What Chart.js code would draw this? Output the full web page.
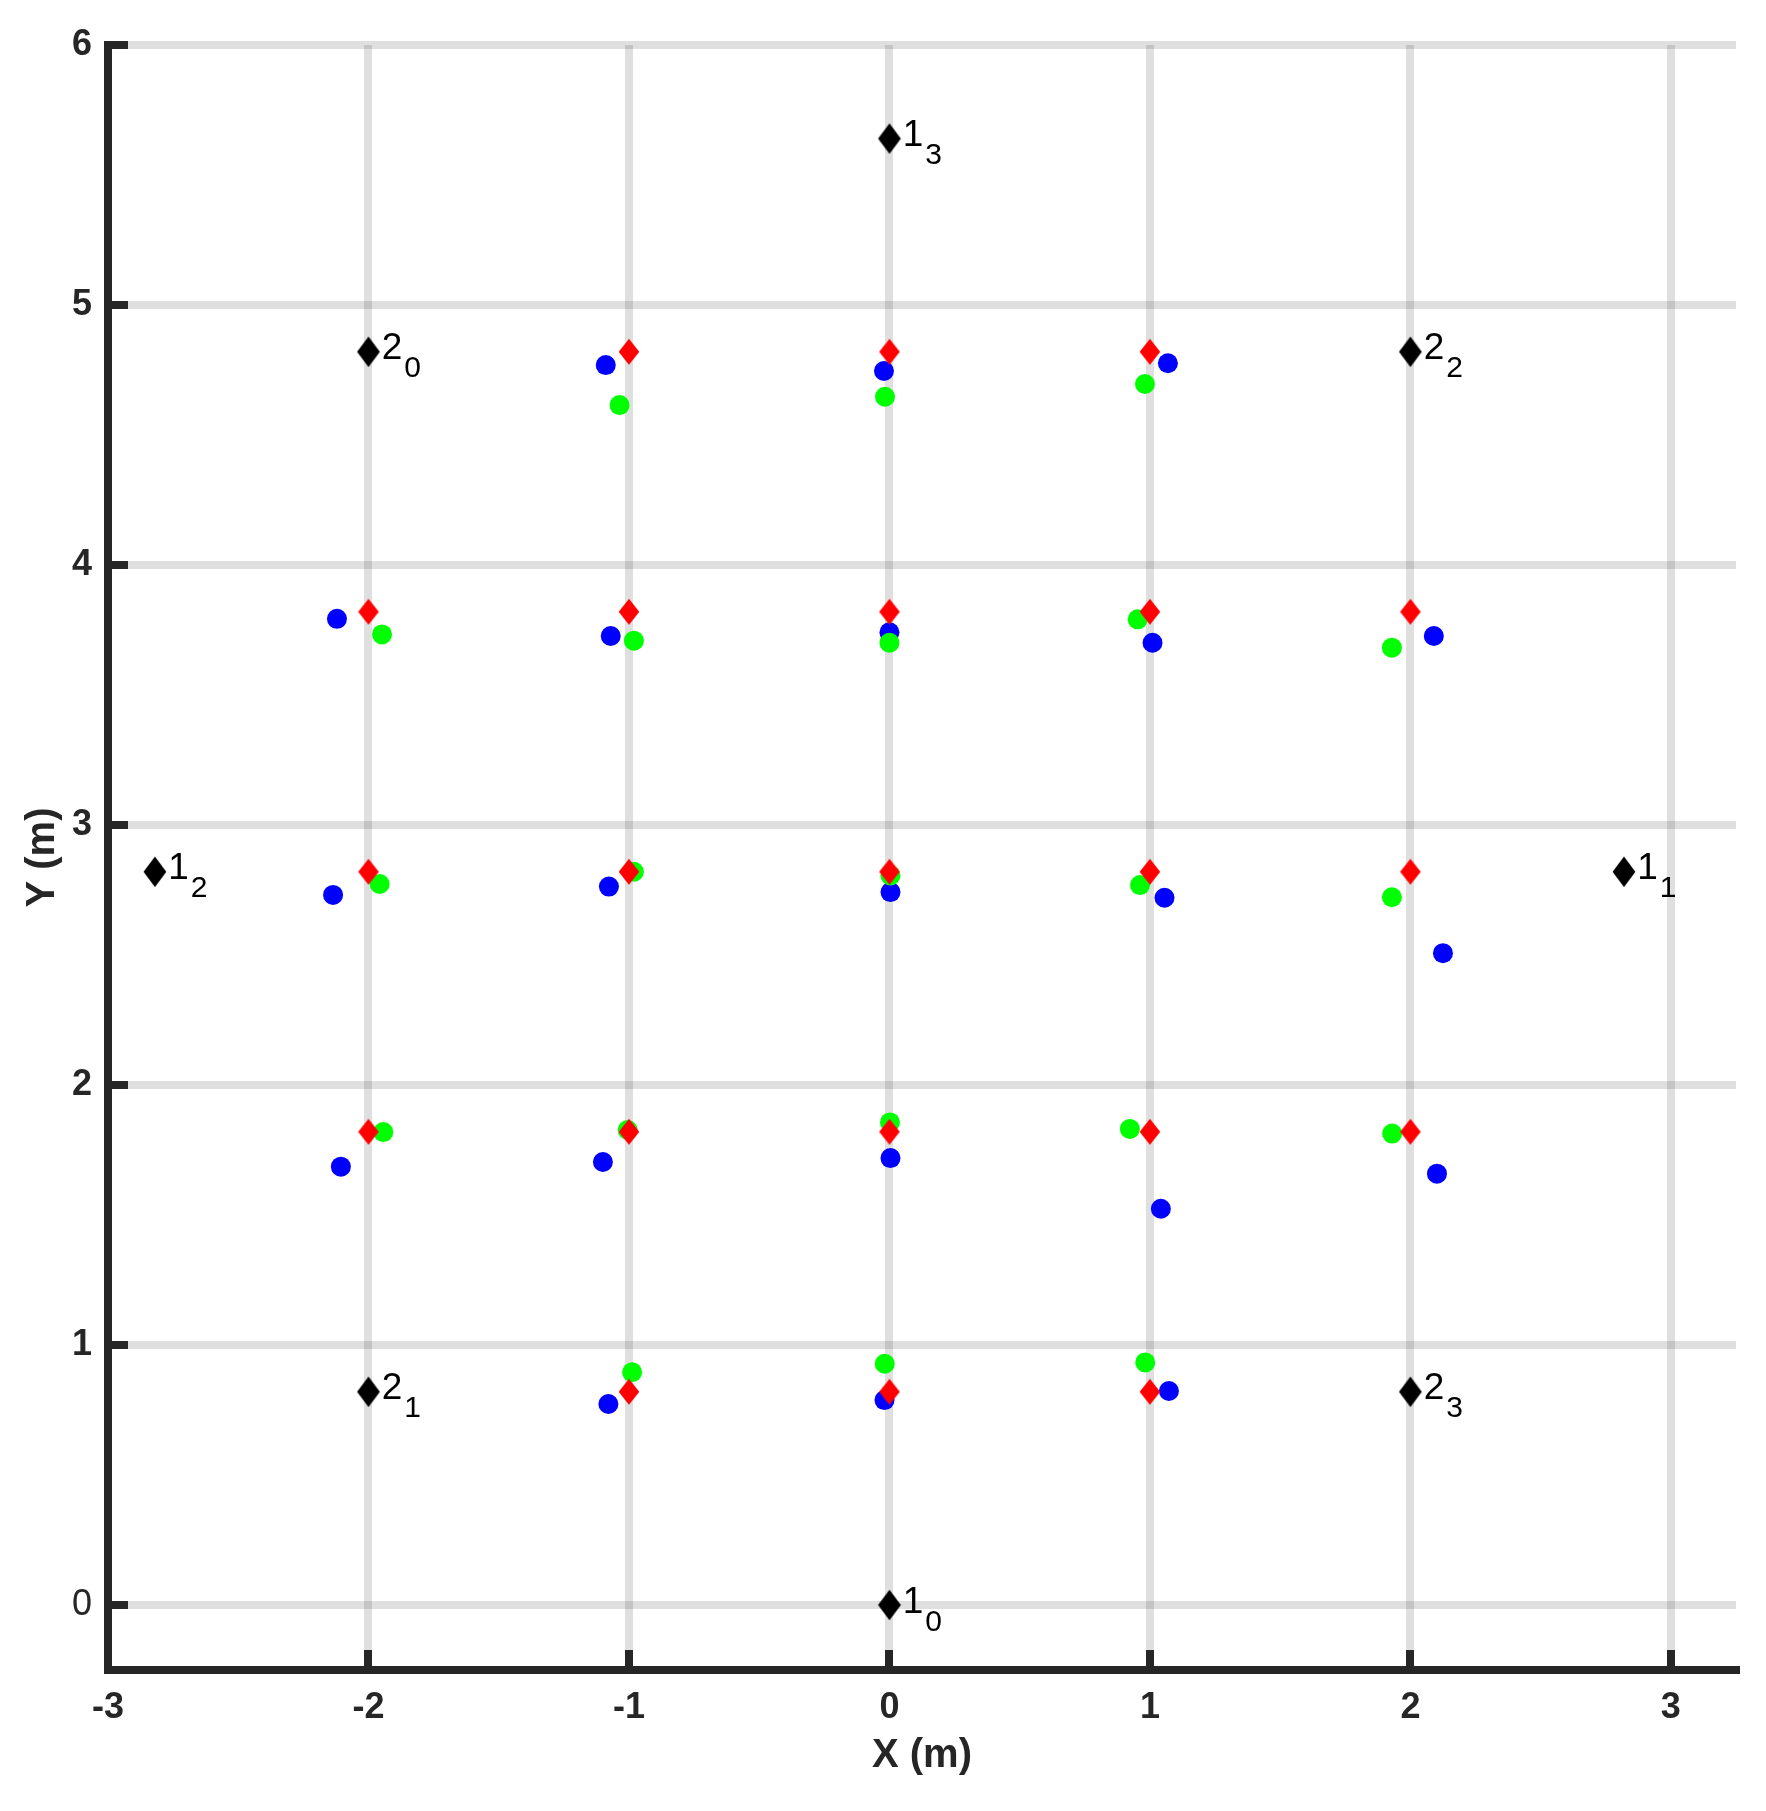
<!DOCTYPE html>
<html>
<head>
<meta charset="utf-8">
<script src="https://cdn.jsdelivr.net/npm/chart.js@4.4.0/dist/chart.umd.min.js"></script>
<style>
html,body{margin:0;padding:0;background:#ffffff;}
#wrap{width:1766px;height:1811px;position:relative;}
</style>
</head>
<body>
<div id="wrap"><canvas id="c"></canvas></div>
<script>
// ---- data (metres) ----
const anchorX    = [0, 2.82, -2.82, 0, -2, -2, 2, 2];
const anchorY    = [0, 2.82, 2.82, 5.64, 4.82, 0.82, 4.82, 0.82];
const anchorMain = ['1', '1', '1', '1', '2', '2', '2', '2'];
const anchorSub  = ['0', '1', '2', '3', '0', '1', '2', '3'];

const refX = [-1, 0, 1,  -2, -1, 0, 1, 2,  -2, -1, 0, 1, 2,  -2, -1, 0, 1, 2,  -1, 0, 1];
const refY = [4.82, 4.82, 4.82,  3.82, 3.82, 3.82, 3.82, 3.82,  2.82, 2.82, 2.82, 2.82, 2.82,
              1.82, 1.82, 1.82, 1.82, 1.82,  0.82, 0.82, 0.82];

const blueX = [-1.089, -0.021, 1.069,  -2.121, -1.070, 0.000, 1.010, 2.090,
               -2.136, -1.077, 0.004, 1.056, 2.125,  -2.106, -1.100, 0.004, 1.042, 2.102,
               -1.079, -0.019, 1.073];
const blueY = [4.769, 4.746, 4.776,  3.793, 3.727, 3.741, 3.701, 3.727,
               2.731, 2.763, 2.742, 2.720, 2.507,  1.686, 1.704, 1.719, 1.524, 1.659,
               0.773, 0.788, 0.823];

const greenX = [-1.036, -0.017, 0.981,  -1.948, -0.981, 0.000, 0.953, 1.929,
                -1.957, -0.981, 0.004, 0.962, 1.929,  -1.943, -1.005, 0.002, 0.923, 1.930,
                -0.988, -0.018, 0.982];
const greenY = [4.615, 4.647, 4.696,  3.733, 3.709, 3.701, 3.791, 3.682,
                2.773, 2.820, 2.806, 2.769, 2.722,  1.819, 1.827, 1.856, 1.831, 1.813,
                0.895, 0.928, 0.933];

const xMin = -3, xMax = 3.25, yMin = -0.25, yMax = 6;
const xTitle = 'X (m)', yTitle = 'Y (m)';

// ---- helpers ----
function pts(xs, ys) { return xs.map((x, i) => ({x: x, y: ys[i]})); }
function diamond(hw, hh, color) {
  const c = document.createElement('canvas');
  c.width = Math.ceil(hw) * 2 + 2;
  c.height = Math.ceil(hh) * 2 + 2;
  const g = c.getContext('2d');
  const cx = c.width / 2, cy = c.height / 2;
  g.fillStyle = color;
  g.beginPath();
  g.moveTo(cx, cy - hh); g.lineTo(cx + hw, cy); g.lineTo(cx, cy + hh); g.lineTo(cx - hw, cy);
  g.closePath(); g.fill();
  return c;
}
const FONT = '"Liberation Sans", Arial, Helvetica, sans-serif';
const AX = '#262626';

const anchorLabels = {
  id: 'anchorLabels',
  afterDatasetsDraw(chart) {
    const meta = chart.getDatasetMeta(0);
    const ctx = chart.ctx;
    ctx.save();
    ctx.fillStyle = '#000000';
    ctx.textAlign = 'left';
    ctx.textBaseline = 'alphabetic';
    meta.data.forEach((pt, i) => {
      const x0 = pt.x + 13.3, yb = pt.y + 7.6;
      ctx.font = '37px ' + FONT;
      ctx.fillText(anchorMain[i], x0, yb);
      const w = ctx.measureText(anchorMain[i]).width;
      ctx.font = '30px ' + FONT;
      ctx.fillText(anchorSub[i], x0 + w + 2, yb + 18);
    });
    ctx.restore();
  }
};

function zeroPad(s) { s.paddingTop = 0; s.paddingBottom = 0; s.paddingLeft = 0; s.paddingRight = 0; }

new Chart(document.getElementById('c'), {
  type: 'scatter',
  data: {
    datasets: [
      { data: pts(anchorX, anchorY), pointStyle: diamond(11.4, 15.3, '#000000'), pointRadius: 12, borderWidth: 0 },
      { data: pts(refX, refY), pointStyle: diamond(10.3, 13, '#ff0000'), pointRadius: 10, borderWidth: 0 },
      { data: pts(greenX, greenY), pointStyle: 'circle', pointRadius: 10, backgroundColor: '#00ff00', borderWidth: 0 },
      { data: pts(blueX, blueY), pointStyle: 'circle', pointRadius: 10, backgroundColor: '#0000ff', borderWidth: 0 }
    ]
  },
  options: {
    responsive: true,
    maintainAspectRatio: false,
    animation: false,
    layout: { padding: { left: 0, top: 45, right: 30, bottom: 0 } },
    plugins: { legend: { display: false }, tooltip: { enabled: false } },
    elements: { point: { hoverRadius: 10 } },
    scales: {
      x: {
        type: 'linear', min: xMin, max: xMax,
        afterFit(s) { s.height = 141; zeroPad(s); },
        border: { display: true, color: AX, width: 8 },
        grid: { color: 'rgba(38,38,38,0.15)', lineWidth: 8, drawTicks: true, tickLength: -20, tickColor: AX, tickWidth: 8 },
        ticks: { stepSize: 1, includeBounds: false, padding: 36, color: AX, maxRotation: 0,
                 font: { family: FONT, size: 36, weight: 'bold' } },
        title: { display: true, text: xTitle, color: AX, padding: { top: 0, bottom: 31 },
                 font: { family: FONT, size: 40, weight: 'bold' } }
      },
      y: {
        type: 'linear', min: yMin, max: yMax,
        afterFit(s) { s.width = 108; zeroPad(s); },
        border: { display: true, color: AX, width: 8 },
        grid: { color: 'rgba(38,38,38,0.15)', lineWidth: 8, drawTicks: true, tickLength: -20, tickColor: AX, tickWidth: 8 },
        ticks: { stepSize: 1, includeBounds: false, padding: 36, color: AX,
                 font: (c) => ({ family: FONT, size: 36, weight: (c.tick && c.tick.value === 0) ? 'normal' : 'bold' }) },
        title: { display: true, text: yTitle, color: AX, padding: { top: 19, bottom: 0 },
                 font: { family: FONT, size: 40, weight: 'bold' } }
      }
    }
  },
  plugins: [anchorLabels]
});
</script>
</body>
</html>
